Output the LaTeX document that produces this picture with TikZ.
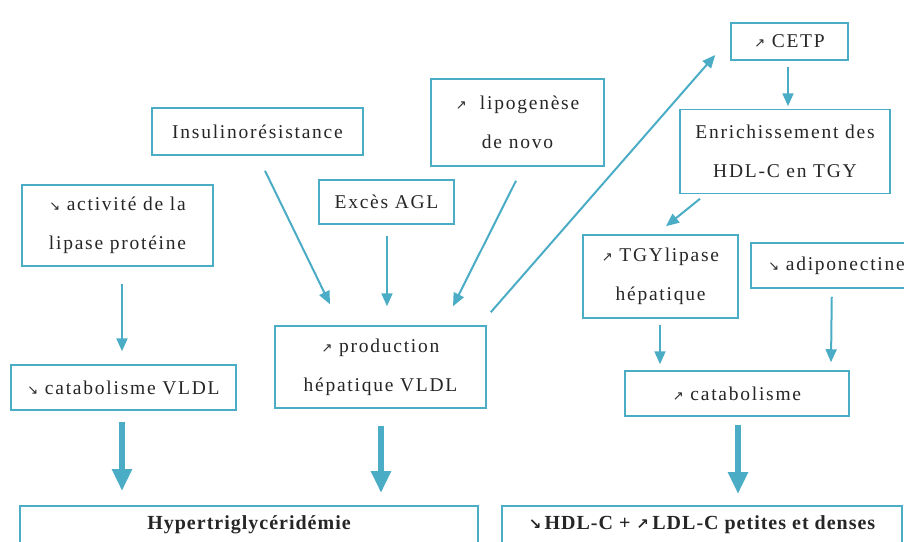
\documentclass[tikz,border=0pt]{standalone}
\usepackage{fontspec}
\setmainfont{Liberation Serif}[LetterSpace=9, BoldFeatures={LetterSpace=5}]
\newfontfamily\arrfont{DejaVu Sans}
\usetikzlibrary{arrows.meta,calc}
\definecolor{aqua}{RGB}{75,172,198}
\newcommand\upar{{\arrfont\fontsize{13}{13}\selectfont ↗}}
\newcommand\dnar{{\arrfont\fontsize{13}{13}\selectfont ↘}}
\newcommand\upbar{{\arrfont\bfseries\fontsize{15}{15}\selectfont ↗}}
\newcommand\dnbar{{\arrfont\bfseries\fontsize{15}{15}\selectfont ↘}}
\tikzset{
  box/.style={draw=aqua, line width=1.5pt, fill=white, inner sep=0pt, align=center,
    font=\fontsize{19.5}{39}\selectfont, text=black!85},
  boldbox/.style={box, anchor=north, text height=24pt, text depth=31pt,
    font=\bfseries\fontsize{20}{39}\selectfont},
  thinarr/.style={draw=aqua, line width=2pt, -{Triangle[width=11pt,length=13pt]}},
  thickarr/.style={draw=aqua, line width=6pt, -{Triangle[width=19pt,length=22pt]}},
}
\begin{document}
\begin{tikzpicture}[x=1pt,y=-1pt]
\useasboundingbox (0,0) rectangle (904,541);
% boxes
\node[box, minimum width=117pt, minimum height=37pt] (cetp) at (789.5,41.5) {\upar\ CETP};
\node[box, minimum width=210pt, minimum height=84pt] (enr) at (785,151.5) {Enrichissement des\\HDL-C en TGY};
\node[box, minimum width=155pt, minimum height=83pt] (tgy) at (660.5,276.5) {\upar\ TGYlipase\\hépatique};
\node[box, minimum width=165pt, minimum height=45pt, anchor=west] (adi) at (750,265.5) {\ \dnar\ adiponectine};
\node[box, minimum width=224pt, minimum height=45pt] (catr) at (737,393.5) {\upar\ catabolisme};
\node[box, minimum width=211pt, minimum height=47pt] (ins) at (257.5,131.5) {Insulinorésistance};
\node[box, minimum width=173pt, minimum height=87pt] (lipo) at (517.5,122.5) {\upar\ \ lipogenèse\\de novo};
\node[box, minimum width=135pt, minimum height=44pt] (agl) at (386.5,202) {Excès AGL};
\node[box, minimum width=211pt, minimum height=82pt] (prod) at (380.5,367) {\upar\ production\\hépatique VLDL};
\node[box, minimum width=191pt, minimum height=81pt] (act) at (117.5,225.5) {\dnar\ activité de la\\lipase protéine};
\node[box, minimum width=225pt, minimum height=45pt] (catl) at (123.5,387.5) {\dnar\ catabolisme VLDL};
\node[boldbox, minimum width=458pt] (hyp) at (249,505) {Hypertriglycéridémie};
\node[boldbox, minimum width=400pt] (hdl) at (702,505) {\dnbar\,HDL-C + \upbar\,LDL-C petites et denses};
% thin arrows
\draw[thinarr] ([xshift=4.5pt,yshift=-17pt]act.south) -- ([xshift=-1.5pt,yshift=13pt]catl.north);
\draw[thinarr] ([xshift=7.5pt,yshift=-15pt]ins.south) -- ([xshift=-50.5pt,yshift=21pt]prod.north);
\draw[thinarr] ([xshift=0.5pt,yshift=-11pt]agl.south) -- ([xshift=6.5pt,yshift=19pt]prod.north);
\draw[thinarr] ([xshift=-1.5pt,yshift=-14pt]lipo.south) -- ([xshift=72.5pt,yshift=19pt]prod.north);
\draw[thinarr] ([xshift=4pt,yshift=13pt]prod.north east) -- ([xshift=-15pt,yshift=-13.5pt]cetp.west);
\draw[thinarr] ([xshift=-1.5pt,yshift=-6pt]cetp.south) -- ([xshift=3pt,yshift=2.5pt]enr.north);
\draw[thinarr] ([xshift=-85pt,yshift=-4.5pt]enr.south) -- ([xshift=5.5pt,yshift=8pt]tgy.north);
\draw[thinarr] ([xshift=-0.5pt,yshift=-6pt]tgy.south) -- ([xshift=-77pt,yshift=6pt]catr.north);
\draw[thinarr] ([xshift=-1.5pt,yshift=-8pt]adi.south) -- ([xshift=94pt,yshift=8pt]catr.north);
% thick arrows
\draw[thickarr] ([xshift=-1.5pt,yshift=-11pt]catl.south) -- ([xshift=-127pt,yshift=14pt]hyp.north);
\draw[thickarr] ([xshift=0.5pt,yshift=-17pt]prod.south) -- ([xshift=132pt,yshift=12pt]hyp.north);
\draw[thickarr] ([xshift=1pt,yshift=-8pt]catr.south) -- ([xshift=36pt,yshift=11pt]hdl.north);
\end{tikzpicture}
\end{document}
